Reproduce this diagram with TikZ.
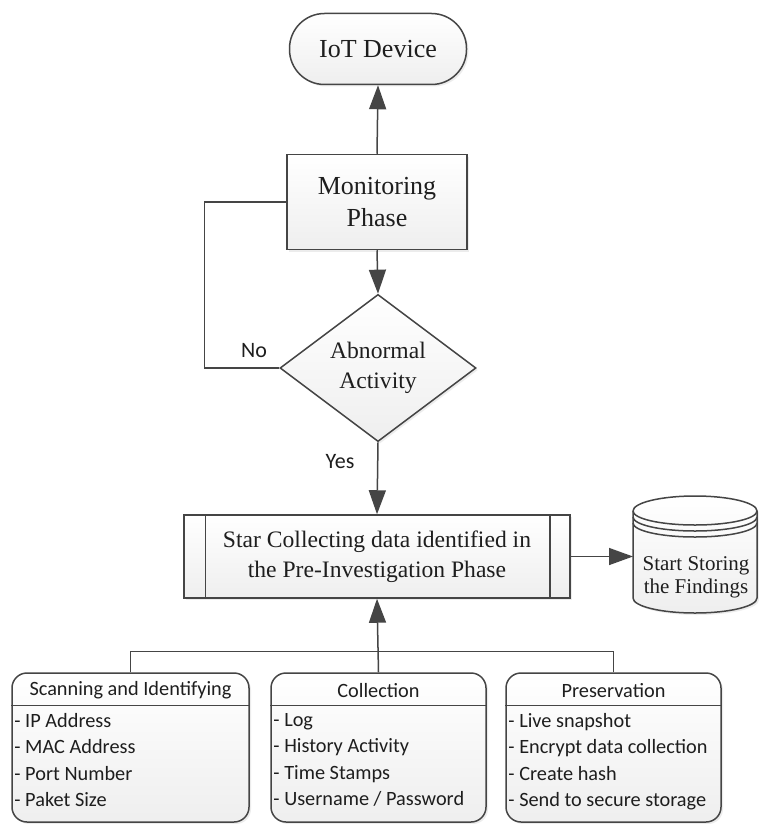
\documentclass[tikz,border=0pt]{standalone}
\usepackage{fontspec}
\setmainfont{Liberation Serif}
\newfontfamily\calib{Carlito}
\usetikzlibrary{shapes.geometric,arrows.meta,shadows}
\definecolor{linec}{HTML}{454545}
\definecolor{textc}{HTML}{1E1E1E}
\tikzset{
  ln/.style={draw=linec, line width=1.5pt},
  arr/.style={ln, -{Triangle[length=24pt,width=17pt]}},
  shadebox/.style={ln, top color=white, bottom color=gray!13,
     drop shadow={opacity=0.15, shadow xshift=2pt, shadow yshift=-2pt}},
  serifbig/.style={font=\fontsize{26}{32}\selectfont, text=textc, align=center},
  serifmid/.style={font=\fontsize{23.6}{30}\selectfont, text=textc, align=center},
  lbl/.style={font=\calib\fontsize{22}{26}\selectfont, text=textc},
  headtxt/.style={font=\calib\fontsize{20.3}{24}\selectfont, text=textc},
  itemtxt/.style={font=\calib\fontsize{20.3}{26.3}\selectfont, text=textc, align=left, inner sep=0pt, anchor=north west},
  listbox/.style={shadebox, rounded corners=15pt, minimum height=149pt, inner sep=0pt},
}
\begin{document}
\begin{tikzpicture}[x=1pt,y=-1pt]
\useasboundingbox (0,0) rectangle (759,824);
\fill[white] (0,0) rectangle (759,824);

% main flow
\node[shadebox, rounded corners=35pt, minimum width=177pt, minimum height=71pt, serifbig] (iot) at (378,49) {IoT Device};
\node[shadebox, minimum width=180pt, minimum height=95pt, serifbig] (mon) at (377,202) {Monitoring\\Phase};
\node[shadebox, diamond, minimum width=196pt, minimum height=128pt, inner sep=0pt, serifmid] (dec) at (378,368) {Abnormal\\Activity};
\node[shadebox, minimum width=386pt, minimum height=83pt, serifmid] (proc) at (377,556.5) {Star Collecting data identified in\\the Pre-Investigation Phase};
\draw[ln] ([xshift=22pt]proc.north west) -- ([xshift=22pt]proc.south west);
\draw[ln] ([xshift=-21pt]proc.north east) -- ([xshift=-21pt]proc.south east);

% data store (cylinder)
\path[ln, top color=white, bottom color=gray!13, drop shadow={opacity=0.15, shadow xshift=2pt, shadow yshift=-2pt}]
  (633,511) -- (633,598) arc (180:360:62pt and 15pt) -- (757,511) arc (0:180:62pt and 15pt) -- cycle;
\draw[ln] (633,511) arc (180:360:62pt and 14pt);
\draw[ln] (633,517) arc (180:360:62pt and 14pt);
\draw[ln] (633,523) arc (180:360:62pt and 14pt);
\node[font=\fontsize{21}{23}\selectfont, text=textc, align=center] (store) at (696,577) {Start Storing\\the Findings};
\coordinate (storeW) at (633,557);

% connectors
\draw[arr] (mon.north) -- (iot.south);
\draw[arr] (mon.south) -- (dec.north);
\draw[ln] (dec.west) -- ++(-75,0) |- (mon.west);
\draw[arr] (dec.south) -- (proc.north);
\draw[arr] (proc.east) -- (proc.east -| storeW);
\node[lbl] (no) at (254,351) {No};
\node[lbl] (yes) at (340,462) {Yes};

% bottom list boxes
\node[listbox, minimum width=237pt] (scan) at (130.5,747.5) {};
\node[listbox, minimum width=215pt] (coll) at (378.5,747.5) {};
\node[listbox, minimum width=215pt] (pres) at (613.5,747.5) {};
\foreach \b in {scan,coll,pres}{
  \draw[ln] ([yshift=-33pt]\b.north west) -- ([yshift=-33pt]\b.north east);
}
\node[headtxt] (scanh) at ([yshift=-18pt]scan.north) {Scanning and Identifying};
\node[headtxt] (collh) at ([yshift=-18pt]coll.north) {Collection};
\node[headtxt] (presh) at ([yshift=-18pt]pres.north) {Preservation};
\node[itemtxt] (scani) at ([xshift=3pt,yshift=-41pt]scan.north west) {- IP Address\\- MAC Address\\- Port Number\\- Paket Size};
\node[itemtxt] (colli) at ([xshift=3pt,yshift=-41pt]coll.north west) {- Log\\- History Activity\\- Time Stamps\\- Username / Password};
\node[itemtxt] (presi) at ([xshift=3pt,yshift=-41pt]pres.north west) {- Live snapshot\\- Encrypt data collection\\- Create hash\\- Send to secure storage};

\draw[ln] (scan.north) -- ++(0,-21) -| (pres.north);
\draw[arr] (coll.north) -- (proc.south);
\end{tikzpicture}
\end{document}
